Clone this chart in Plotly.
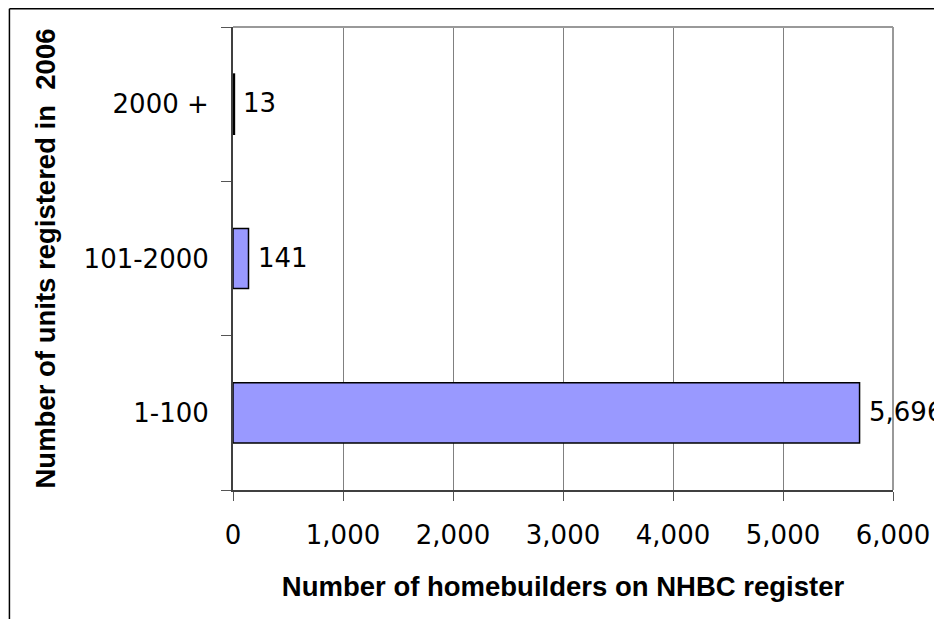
import plotly.graph_objects as go

# bottom-to-top order, as drawn on the chart
categories = ['1-100', '101-2000', '2000 +']
builders = [5696, 141, 13]
x_ticks = [0, 1000, 2000, 3000, 4000, 5000, 6000]

tick_font = "DejaVu Sans"
title_font = "Liberation Sans, Arial"

# the page puts the figure 8px in from the top-left corner
W, H = 934, 611
ML, MR, MT, MB = 225, 47, 19, 129
pw, ph = W - ML - MR, H - MT - MB

fig = go.Figure()

fig.add_trace(go.Bar(
    x=builders, y=categories, orientation='h',
    marker=dict(color='#9999FF', line=dict(color='black', width=1.5)),
    showlegend=False, hoverinfo='x+y',
))

# value labels just right of each bar end
for cat, val in zip(categories, builders):
    fig.add_annotation(x=val, y=cat, text=f"{val:,}", showarrow=False,
                       xanchor='left', xshift=7, yshift=1,
                       font=dict(family=tick_font, size=26, color='black'))

# outer frame (cut off at the right/bottom, like the original)
fx = -(ML - 0.75) / pw
fy = 1 + (MT - 0.75) / ph
fig.add_shape(type='line', xref='paper', yref='paper',
              x0=fx, x1=fx, y0=-0.5, y1=fy,
              line=dict(color='black', width=1.5))
fig.add_shape(type='line', xref='paper', yref='paper',
              x0=fx, x1=1.2, y0=fy, y1=fy,
              line=dict(color='black', width=1.5))
# grey plot-area border on top and right
fig.add_shape(type='line', xref='paper', yref='paper',
              x0=0, x1=1, y0=1, y1=1, line=dict(color='#999999', width=2))
fig.add_shape(type='line', xref='paper', yref='paper',
              x0=1, x1=1, y0=0, y1=1, line=dict(color='#999999', width=2))

fig.update_layout(
    width=W, height=H,
    margin=dict(l=ML, r=MR, t=MT, b=MB),
    paper_bgcolor='white', plot_bgcolor='white',
    bargap=0.61,
    font=dict(family=tick_font, size=26, color='black'),
)

fig.update_xaxes(
    range=[0, 6000], tickvals=x_ticks, tickformat=',',
    showgrid=True, gridcolor='#808080', gridwidth=1,
    showline=True, linecolor='#404040', linewidth=2,
    ticks='outside', ticklen=9, tickcolor='#555555',
    ticklabelstandoff=12, zeroline=False,
    title=dict(text='<b>Number of homebuilders on NHBC register</b>',
               font=dict(family=title_font, size=27.5), standoff=28),
)
fig.update_yaxes(
    categoryorder='array', categoryarray=categories,
    showline=True, linecolor='#404040', linewidth=2,
    ticks='outside', ticklen=10, tickcolor='#555555', tickson='boundaries',
    ticklabelstandoff=17, showgrid=False,
    title=dict(text='<b>Number of units registered in  2006</b>',
               font=dict(family=title_font, size=27.5), standoff=20),
)

fig.write_html("out.html")
